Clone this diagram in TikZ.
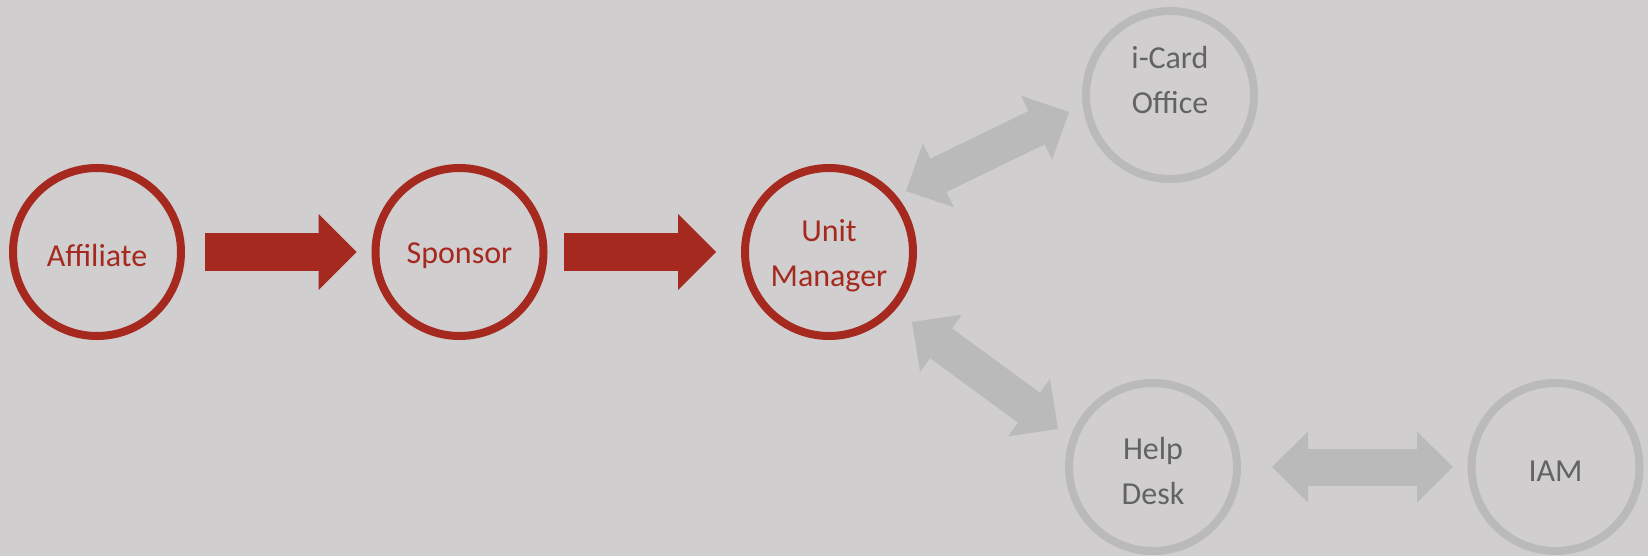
\documentclass[tikz,border=0pt]{standalone}
\usepackage{fontspec}
\setmainfont{Carlito}
\usetikzlibrary{arrows.meta,calc}
\definecolor{bg}{HTML}{D0CECE}
\definecolor{wine}{HTML}{A6291F}
\definecolor{lgray}{HTML}{BABABA}
\definecolor{tgray}{HTML}{636363}
\begin{document}
\begin{tikzpicture}[x=0.5pt,y=-0.5pt,
  stage/.style={circle, minimum size=84pt, inner sep=0pt, line width=4pt},
  redstage/.style={stage, draw=wine},
  graystage/.style={stage, draw=lgray},
  stxt/.style={align=center, inner sep=0pt, font=\fontsize{16pt}{22.5pt}\selectfont},
  rtext/.style={stxt, text=wine, yshift=-2pt},
  gtext/.style={stxt, text=tgray, yshift=-2pt},
  redarr/.style={draw=wine, line width=19pt,
    -{Triangle[length=19pt, width=38pt, line width=0pt]}},
  grayarr/.style={draw=lgray, line width=18.5pt,
    {Triangle[length=18pt, width=35.5pt, line width=0pt]}-{Triangle[length=18pt, width=35.5pt, line width=0pt]}}
]
\fill[bg] (0,0) rectangle (1648,556);
\useasboundingbox (0,0) rectangle (1648,556);

\node[redstage, label={[name=aff-t, rtext]center:Affiliate}] (aff) at (97,252) {};
\node[redstage, label={[name=sp-t, rtext]center:Sponsor}] (sp) at (459.5,252) {};
\node[redstage, label={[name=um-t, rtext]center:Unit\\Manager}] (um) at (829,252) {};
\node[graystage, label={[name=ic-t, gtext, yshift=9.5pt]center:i-Card\\Office}] (ic) at (1170,95) {};
\node[graystage, label={[name=hd-t, gtext]center:Help\\Desk}] (hd) at (1153,467) {};
\node[graystage, label={[name=iam-t, gtext]center:IAM}] (iam) at (1555.5,467) {};

\draw[redarr] ($(aff.east)+(20,0)$) -- ($(sp.west)+(-15,0)$);
\draw[redarr] ($(sp.east)+(16,0)$) -- ($(um.west)+(-25,0)$);
\draw[grayarr] ($(um.center)+(77,-61)$) -- ($(ic.center)+(-101,17)$);
\draw[grayarr] ($(um.center)+(83,70)$) -- ($(hd.center)+(-95,-38)$);
\draw[grayarr] ($(hd.east)+(31,0)$) -- ($(iam.west)+(-14.5,0)$);
\end{tikzpicture}
\end{document}
